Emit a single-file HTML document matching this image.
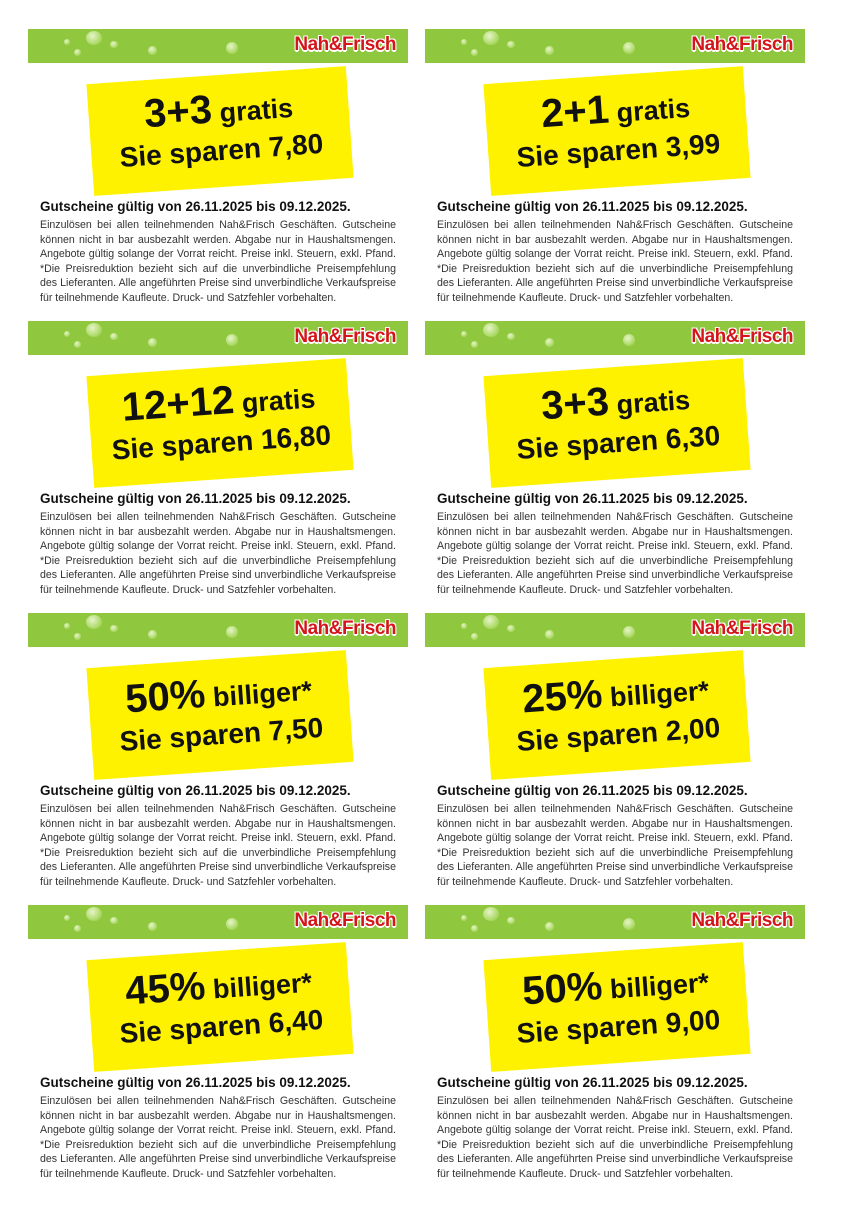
<!DOCTYPE html>
<html><head><meta charset="utf-8"><style>
body{margin:0;width:850px;height:1206px;background:#fff;position:relative;overflow:hidden;font-family:"Liberation Sans",sans-serif}
.card{position:absolute;width:380px;height:285px}
.bar{position:absolute;left:0;top:0;width:380px;height:34px;background:#8fc73e}
.drop{position:absolute;border-radius:50%;background:radial-gradient(circle at 40% 35%,#e6f5c8,#a6d65c 70%)}
.logo{position:absolute;right:12px;top:5px;font-weight:bold;font-size:19px;color:#d4161c;letter-spacing:-0.5px;text-shadow:-1px -1px 0 #fff,1px -1px 0 #fff,-1px 1px 0 #fff,1px 1px 0 #fff,0 2px 0 #fff}
.yel{position:absolute;left:62px;top:46px;width:260px;height:112px;background:#fff200;transform:rotate(-4deg);text-align:center;font-weight:bold;color:#111}
.l1{position:absolute;left:0;right:0;top:12px;font-size:40px;line-height:44px}
.l1 small{font-size:27px}
.l2{position:absolute;left:0;right:0;top:60px;font-size:28px;line-height:32px}
.t{position:absolute;left:12px;top:170px;font-weight:bold;font-size:13.5px;color:#111;white-space:nowrap}
.b{position:absolute;left:12px;top:189px;width:356px;font-size:10.6px;line-height:14.6px;color:#333;text-align:justify}
</style></head><body>
<script>
const data=[["3+3"," gratis","7,80"],["2+1"," gratis","3,99"],["12+12"," gratis","16,80"],["3+3"," gratis","6,30"],["50%"," billiger*","7,50"],["25%"," billiger*","2,00"],["45%"," billiger*","6,40"],["50%"," billiger*","9,00"]];
let h="";
data.forEach((d,i)=>{const x=i%2?425:28,y=29+Math.floor(i/2)*292;
h+=`<div class="card" style="left:${x}px;top:${y}px"><div class="bar">
<div class="drop" style="left:58px;top:2px;width:16px;height:14px"></div>
<div class="drop" style="left:36px;top:10px;width:6px;height:6px"></div>
<div class="drop" style="left:82px;top:12px;width:8px;height:7px"></div>
<div class="drop" style="left:46px;top:20px;width:7px;height:7px"></div>
<div class="drop" style="left:120px;top:17px;width:9px;height:9px"></div>
<div class="drop" style="left:198px;top:13px;width:12px;height:12px"></div>
<div class="logo">Nah&amp;Frisch</div></div>
<div class="yel"><div class="l1">${d[0]}<small>${d[1]}</small></div><div class="l2">Sie sparen ${d[2]}</div></div>
<div class="t">Gutscheine gültig von 26.11.2025 bis 09.12.2025.</div>
<div class="b">Einzulösen bei allen teilnehmenden Nah&amp;Frisch Geschäften. Gutscheine können nicht in bar ausbezahlt werden. Abgabe nur in Haushaltsmengen. Angebote gültig solange der Vorrat reicht. Preise inkl. Steuern, exkl. Pfand. *Die Preisreduktion bezieht sich auf die unverbindliche Preisempfehlung des Lieferanten. Alle angeführten Preise sind unverbindliche Verkaufspreise für teilnehmende Kaufleute. Druck- und Satzfehler vorbehalten.</div></div>`;});
document.write(h);
</script>
</body></html>
